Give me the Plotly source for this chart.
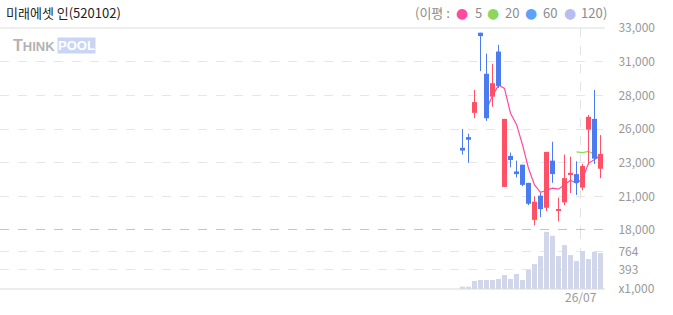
import plotly.graph_objects as go

# ---------------- data ----------------
x_index = list(range(24))
opens = [24100, 24900, 26700, 32650, 29600, 27900, 31250, 21200, 23500, 22350, 22850, 21500,
         18750, 20550, 19650, 23150, 19450, 20050, 22150, 22150, 21150, 25450, 26250, 22550]
highs = [25500, 25150, 28400, 32650, 31100, 30350, 31750, 26250, 23750, 23150, 22850, 21500,
         20500, 20750, 23800, 24550, 20400, 23600, 23450, 23100, 22900, 26550, 28400, 25050]
lows = [23600, 23000, 26300, 29800, 26100, 27150, 28550, 21200, 22650, 21900, 21250, 19850,
        18350, 18950, 19400, 21500, 18650, 19850, 20750, 20600, 20950, 22850, 22900, 21850]
closes = [23900, 24700, 27500, 32400, 26300, 28900, 28700, 26250, 23200, 22150, 21350, 19950,
          20100, 19550, 23800, 22150, 19550, 21850, 22250, 21500, 22750, 26400, 23300, 23650]
volumes = [47, 47, 162, 183, 183, 183, 203, 284, 203, 305, 183, 392,
           508, 670, 1163, 1082, 670, 893, 690, 568, 771, 609, 757, 731]
ma5 = [None, None, None, None, 26960, 27960, 28760, 28510, 26670, 25840, 24330, 22580,
       21350, 20800, 20950, 21110, 21030, 21380, 21700, 21460, 21800, 22950, 23240, 23520]
ma20 = [None] * 19 + [23800, 23750, 23830, 23620, 23180]

price_tick_vals = [33000, 30500, 28000, 25500, 23000, 20500, 18000]
price_tick_text = ['33,000', '31,000', '28,000', '26,000', '23,000', '21,000', '18,000']
vol_tick_vals = [0, 393, 764]
vol_tick_text = ['x1,000', '393', '764']
date_tick_index = [19.7]
date_tick_text = ['26/07']
ma_periods = ['5', '20', '60', '120']

# ---------------- styles ----------------
RED = '#ff5066'
BLUE = '#4a7bef'
PINK = '#ff4aa2'
GREEN = '#8fd65c'
SKY = '#5ea2f7'
LAV = '#b7bdf2'
VOL = '#d2d6ea'
FONT = 'Noto Sans CJK KR, Noto Sans, sans-serif'

up = [c >= o for o, c in zip(opens, closes)]
colors = [RED if u else BLUE for u in up]
body_base = [min(o, c) for o, c in zip(opens, closes)]
body_h = [max(abs(c - o), 60) for o, c in zip(opens, closes)]

fig = go.Figure()

# moving averages (behind candles)
fig.add_trace(go.Scatter(x=x_index, y=ma20, mode='lines', line=dict(color=GREEN, width=1.2),
                         xaxis='x', yaxis='y', hoverinfo='skip'))
fig.add_trace(go.Scatter(x=x_index, y=ma5, mode='lines', line=dict(color=PINK, width=1.2),
                         xaxis='x', yaxis='y', hoverinfo='skip'))

# candle bodies
fig.add_trace(go.Bar(x=x_index, y=body_h, base=body_base, width=0.83,
                     marker=dict(color=colors, line=dict(width=0)),
                     xaxis='x', yaxis='y3'))
# wicks
for col, flag in [(RED, True), (BLUE, False)]:
    wx, wy = [], []
    for i in x_index:
        if up[i] == flag:
            wx += [i, i, None]
            wy += [lows[i], highs[i], None]
    fig.add_trace(go.Scatter(x=wx, y=wy, mode='lines', line=dict(color=col, width=1),
                             xaxis='x', yaxis='y3', hoverinfo='skip'))

# volume
fig.add_trace(go.Bar(x=x_index, y=volumes, width=0.83,
                     marker=dict(color=VOL, line=dict(width=0)),
                     xaxis='x', yaxis='y2'))

split = 59 / 261
PW = 605.0
ytop = (289 - 13) / 261

annotations = [
    dict(text='미래에셋 인(520102)', x=4 / PW, y=ytop, xanchor='left',
         font=dict(family=FONT, size=13, color='#222')),
    dict(text='(이평 :', x=413 / PW, y=ytop, xanchor='left',
         font=dict(family=FONT, size=13, color='#8c8c8c')),
    dict(text=')', x=601 / PW, y=ytop, xanchor='left',
         font=dict(family=FONT, size=13, color='#8c8c8c')),
    dict(text="<b>T<span style='font-size:13px'>HINK</span></b>",
         x=11 / PW, y=(289 - 45.5) / 261, xanchor='left',
         font=dict(family='Liberation Sans, Arial', size=16, color='#b3b3b3')),
    dict(text="<b>POOL</b>", x=57 / PW, y=(289 - 45.5) / 261, xanchor='left',
         bgcolor='#c9d5f3', borderpad=0,
         font=dict(family='Liberation Sans, Arial', size=13, color='white')),
]
dot_x = [462, 493, 531, 569.5]
num_x = [473, 503, 541, 579]
for p, col, dx, nx in zip(ma_periods, [PINK, GREEN, SKY, LAV], dot_x, num_x):
    annotations.append(dict(text='●', x=dx / PW, y=ytop, xanchor='center',
                            font=dict(family='DejaVu Sans', size=14, color=col)))
    annotations.append(dict(text=p, x=nx / PW, y=ytop, xanchor='left',
                            font=dict(family=FONT, size=13, color='#8c8c8c')))
for a in annotations:
    a.update(xref='paper', yref='paper', yanchor='middle', showarrow=False)

fig.update_layout(
    width=673, height=315,
    margin=dict(l=0, r=68, t=28, b=26),
    paper_bgcolor='white', plot_bgcolor='white',
    showlegend=False, barmode='overlay',
    font=dict(family=FONT, size=12, color='#999'),
    xaxis=dict(range=[-77.08, 23.75], tickvals=date_tick_index, ticktext=date_tick_text,
               showgrid=True, gridcolor='#e2e2e2', griddash='dash', gridwidth=1,
               zeroline=False, showline=False, anchor='y2', ticks='',
               tickfont=dict(size=12, color='#999', family=FONT)),
    yaxis=dict(domain=[split, 1], range=[18000, 33000], side='right', anchor='x',
               tickvals=price_tick_vals, ticktext=price_tick_text,
               showgrid=True, gridcolor='#e6e6e6', griddash='dash', gridwidth=1,
               zeroline=False, ticks='outside', ticklen=10, tickcolor='rgba(0,0,0,0)',
               tickfont=dict(size=12, color='#999', family=FONT)),
    yaxis3=dict(overlaying='y', range=[18000, 33000], visible=False, anchor='x'),
    yaxis2=dict(domain=[0, split], range=[0, 1200], side='right', anchor='x',
                tickvals=vol_tick_vals, ticktext=vol_tick_text,
                showgrid=True, gridcolor='#e6e6e6', griddash='dash', gridwidth=1,
                zeroline=False, ticks='outside', ticklen=10, tickcolor='rgba(0,0,0,0)',
                tickfont=dict(size=12, color='#999', family=FONT)),
    shapes=[
        dict(type='line', xref='paper', yref='paper', x0=0, x1=1, y0=1, y1=1,
             line=dict(color='#dcdcdc', width=1)),
        dict(type='line', xref='paper', yref='y', x0=0, x1=1, y0=18000, y1=18000,
             line=dict(color='#8a8a8a', width=1, dash='dash')),
        dict(type='line', xref='paper', yref='paper', x0=0, x1=1, y0=0, y1=0,
             line=dict(color='#d8d8d8', width=1)),
    ],
    annotations=annotations,
)

fig.write_html('out.html')
